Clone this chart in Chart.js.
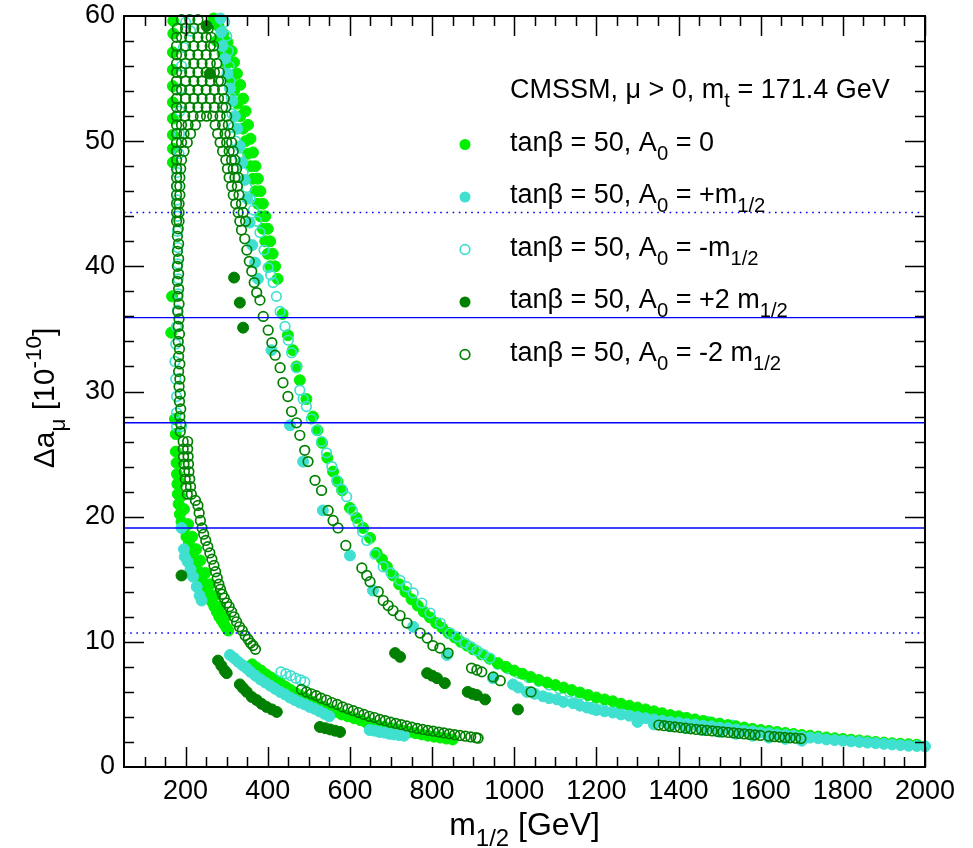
<!DOCTYPE html>
<html>
<head>
<meta charset="utf-8">
<script src="https://cdn.jsdelivr.net/npm/chart.js@4.4.0/dist/chart.umd.min.js"></script>
<style>
  html, body { margin: 0; padding: 0; background: #fff; }
</style>
</head>
<body>
<canvas id="myChart" width="973" height="848"></canvas>
<script>
// tick values
const xTicks = [200, 400, 600, 800, 1000, 1200, 1400, 1600, 1800, 2000];
const yTicks = [0, 10, 20, 30, 40, 50, 60];

// horizontal bands of the measured value
const bandSolid = [35.9, 27.5, 19.1];
const bandDotted = [44.3, 10.7];

// tanb = 50, A0 = 0  (light green, filled)
const a0Zero = [
  [170,59.6],[170,58.6],[169,57.1],[169,55.7],[169,54.4],[169,53.1],[169,51.8],[169,50.5],[169,49.4],[169,48.3],
  [167,37.6],[165,34.7],[174,27.8],[176,26.6],
  [176,25.2],[178,24.3],[179,23.4],[180,22.6],[181,21.8],[183,21.0],[186,20.2],[190,19.6],[196,19.0],[202,18.4],
  [208,17.9],[213,17.4],[218,16.8],[223,16.3],[228,15.8],[234,15.3],[240,14.9],[246,14.5],[252,14.1],[258,13.6],
  [264,13.2],[270,12.8],[276,12.4],[282,12.0],[288,11.7],[294,11.4],[300,11.1],[304,10.9],
  [184,22.8],[188,21.6],[196,20.6],[206,19.4],[216,18.4],[226,17.4],[236,16.5],[248,15.5],[260,14.6],[272,13.7],[284,12.8],[296,12.0],
  [268,59.8],[280,59.2],[292,58.6],[302,57.9],[312,57.2],[318,56.3],[325,55.4],[333,54.5],[340,53.4],[346,52.4],
  [352,51.3],[358,50.2],[364,49.1],[370,48.0],[376,47.0],[382,46.0],[388,45.0],[394,44.0],[400,43.0],[406,42.0],
  [412,41.0],[418,40.0],[424,39.0],
  [275,58.0],[290,57.0],[300,56.2],[310,55.0],[318,54.0],[326,53.0],[333,52.0],[340,51.0],[346,50.0],[352,49.0],
  [358,48.0],[364,47.0],[370,46.0],[376,45.0],[382,44.0],[388,43.0],[394,42.0],[400,41.0],[406,40.0],
  [436,36.2],[449,34.5],[461,33.3],[470,32.0],[478,30.9],[494,29.4],[510,28.0],[521,26.9],[532,25.9],[545,24.7],
  [559,23.6],[570,22.8],[581,22.1],[600,20.7],[616,19.9],[632,19.1],[649,18.3],[665,17.1],[678,16.6],
  [690,16.0],[705,15.3],[720,14.6],[735,14.0],[750,13.4],[765,12.9],[780,12.4],[795,11.95],[810,11.5],[825,11.1],
  [840,10.7],[855,10.35],[870,10.0],[885,9.7],[900,9.4],[920,9.0],[940,8.65],[960,8.3],[980,8.0],[1000,7.7],
  [1020,7.45],[1040,7.2],[1060,6.95],[1080,6.75],[1100,6.55],[1120,6.35],[1140,6.15],[1160,5.95],[1180,5.75],[1200,5.55],
  [1220,5.4],[1240,5.25],[1260,5.05],[1280,4.9],[1300,4.75],[1320,4.6],[1340,4.45],[1360,4.3],[1380,4.15],[1400,4.05],
  [1420,3.92],[1440,3.8],[1460,3.68],[1480,3.56],[1500,3.45],[1520,3.35],[1540,3.25],[1560,3.15],[1580,3.05],[1600,2.96],
  [1620,2.88],[1640,2.8],[1660,2.72],[1680,2.64],[1700,2.56],[1720,2.5],[1740,2.43],[1760,2.36],[1780,2.3],[1800,2.24],
  [1820,2.18],[1840,2.12],[1860,2.06],[1880,2.0],[1900,1.95],[1920,1.9],[1940,1.86],[1960,1.82],[1980,1.78],
  [362,8.2],[372,7.95],[384,7.7],[396,7.4],[408,7.15],[420,6.9],[432,6.65],[444,6.4],[456,6.15],[468,5.9],
  [480,5.7],[494,5.45],[508,5.2],[522,5.0],[536,4.8],[550,4.6],[565,4.4],[580,4.2],[595,4.05],[610,3.9],
  [625,3.75],[640,3.55],[655,3.45],[670,3.3],[685,3.2],[700,3.1],[715,3.0],[730,2.9],[745,2.8],[760,2.7],
  [775,2.6],[790,2.5],[805,2.42],[820,2.35],[835,2.27],[850,2.2]
];

// tanb = 50, A0 = +m1/2  (turquoise, filled)
const a0Plus = [
  [285,59.8],[287,58.7],[290,57.6],[296,56.6],[302,55.4],[308,54.2],[314,53.2],[320,52.0],[326,51.0],[332,49.6],
  [338,48.3],[344,46.9],[350,45.4],[356,43.5],[362,41.7],[369,40.3],[376,39.0],
  [409,33.3],[454,27.3],[486,24.4],[534,20.5],[600,16.9],[656,14.1],[754,11.2],[836,8.95],[948,7.1],
  [997,6.6],[1010,6.35],[1031,6.0],[1050,5.85],[1070,5.65],[1085,5.5],[1104,5.4],[1120,5.2],[1143,5.1],[1160,4.9],
  [1177,4.75],[1190,4.65],
  [1200,4.55],[1220,4.45],[1240,4.35],[1260,4.2],[1280,4.1],[1300,4.0],[1320,3.9],[1340,3.8],[1360,3.7],[1380,3.6],
  [1400,3.55],[1420,3.45],[1440,3.4],[1460,3.3],[1480,3.25],[1500,3.15],[1520,3.1],[1540,3.0],[1560,2.9],[1580,2.85],
  [1600,2.75],[1620,2.7],[1640,2.6],[1660,2.55],[1680,2.5],[1700,2.4],[1720,2.35],[1740,2.3],[1760,2.2],[1780,2.15],
  [1800,2.1],[1820,2.05],[1840,2.0],[1860,1.95],[1880,1.9],[1900,1.85],[1920,1.8],[1940,1.75],[1960,1.7],[1980,1.68],[2000,1.65],
  [1300,3.6],[1340,3.4],[1380,3.25],[1420,3.1],[1460,2.95],[1500,2.8],[1540,2.65],[1580,2.5],[1620,2.35],[1660,2.25],[1700,2.1],
  [190,19.1],[196,17.4],[198,16.8],[205,16.4],[212,15.8],[218,15.2],[227,14.4],[234,13.7],[239,13.3],
  [308,8.95],[318,8.7],[328,8.4],[338,8.15],[348,7.9],[358,7.6],[370,7.3],[382,7.0],[394,6.75],[406,6.5],
  [418,6.25],[430,6.0],[442,5.8],[454,5.55],[466,5.35],[478,5.15],[490,5.0],[502,4.8],[514,4.65],[526,4.45],
  [538,4.25],[550,4.05],
  [648,2.95],[660,2.9],[672,2.8],[684,2.75],[696,2.65],[708,2.6],[720,2.55],[732,2.5]
];

// tanb = 50, A0 = -m1/2  (turquoise, open)
const a0Minus = [
  [295,59.5],[300,58.4],[304,57.2],[306,56.0],[308,54.8],[311,53.5],[313,52.2],[315,51.1],[322,50.0],[332,48.7],
  [340,47.5],[349,46.3],[357,45.4],[365,44.5],[373,43.6],[381,42.7],[391,41.3],[401,39.9],[407,39.3],[413,38.7],
  [421,37.6],[430,36.4],[442,35.2],[450,34.1],[458,33.1],[470,31.9],[478,30.1],[486,29.4],[494,28.8],[506,27.8],
  [519,26.9],[531,26.0],[543,25.1],[556,24.0],[568,22.9],[580,22.2],[592,21.6],[606,20.5],[620,19.5],[631,18.8],
  [641,18.1],[661,17.0],[681,16.0],[700,15.5],[722,14.9],[738,14.4],[754,13.9],[775,13.1],[795,12.3],[820,11.5],
  [844,10.7],[861,10.4],[880,9.9],[895,9.6],[909,9.3],[925,9.0],[941,8.7],
  [179,47.5],[179,46.4],[179,45.3],[180,44.0],[180,42.8],[181,41.5],[181,40.2],[182,39.0],[182,37.8],[180,36.5],
  [178,35.2],[176,33.8],[174,32.4],[176,31.0],[178,29.6],[178,28.3],[178,27.2],[190,27.2],
  [200,59.5],[212,58.8],[195,57.5],[190,56.0],[188,54.2],[186,52.4],[185,50.6],[184,49.0],
  [432,7.6],[444,7.45],[456,7.3],[468,7.1],[480,6.95],[490,6.8]
];
// part of the same series that lies under the filled bands
const a0MinusTail = [
  [960,8.2],[985,7.85],[1010,7.5],[1035,7.15],[1060,6.85],[1085,6.55],[1110,6.25],[1135,6.0],[1160,5.75],[1185,5.5],
  [1210,5.3],[1235,5.1],[1260,4.9],[1290,4.65],[1320,4.45],[1350,4.25],[1380,4.1],[1410,3.95],[1440,3.8],[1470,3.65],
  [1500,3.5],[1530,3.35]
];

// tanb = 50, A0 = +2 m1/2  (dark green, filled)
const a0Plus2 = [
  [251,59.2],[259,55.4],[318,39.1],[332,37.1],[340,35.1],[190,15.3],
  [279,8.5],[287,8.1],[295,7.7],[300,7.5],[332,6.6],[340,6.3],[349,6.0],[361,5.6],[373,5.35],[385,5.05],
  [397,4.8],[410,4.6],[422,4.4],[527,3.2],[540,3.1],[552,3.0],[564,2.9],[576,2.8],
  [710,9.1],[722,8.8],[788,7.5],[800,7.3],[812,7.1],[831,6.7],[887,6.0],[898,5.85],[909,5.75],[929,5.4],[1009,4.6]
];

// tanb = 50, A0 = -2 m1/2  (dark green, open)
const a0Minus2 = [
  [190,59.7],[210,59.7],[230,59.7],
  [180,59.0],[200,59.0],[220,59.0],[240,59.0],[255,59.0],
  [178,58.3],[190,58.3],[210,58.3],[230,58.3],[250,58.3],[262,58.3],
  [178,57.6],[200,57.6],[220,57.6],[240,57.6],[260,57.6],[268,57.6],
  [178,56.9],[190,56.9],[210,56.9],[230,56.9],[250,56.9],[270,56.9],
  [178,56.2],[200,56.2],[220,56.2],[240,56.2],[260,56.2],[276,56.2],
  [178,55.5],[190,55.5],[210,55.5],[230,55.5],[250,55.5],[270,55.5],[282,55.5],
  [178,54.8],[200,54.8],[220,54.8],[240,54.8],[260,54.8],[280,54.8],[286,54.8],
  [178,54.1],[190,54.1],[210,54.1],[230,54.1],[250,54.1],[270,54.1],[290,54.1],
  [178,53.4],[200,53.4],[220,53.4],[240,53.4],[260,53.4],[280,53.4],[294,53.4],
  [178,52.7],[190,52.7],[210,52.7],[230,52.7],[250,52.7],[270,52.7],[290,52.7],[298,52.7],
  [178,52.0],[198,52.0],[218,52.0],[236,52.0],[251,52.0],[266,52.0],[284,52.0],[300,52.0],
  [178,51.3],[190,51.3],[206,51.3],[224,51.3],[272,51.3],[290,51.3],[304,51.3],
  [178,50.6],[196,50.6],[212,50.6],[278,50.6],[296,50.6],[308,50.6],
  [178,49.9],[190,49.9],[204,49.9],[284,49.9],[300,49.9],[312,49.9],
  [178,49.2],[196,49.2],[290,49.2],[306,49.2],[316,49.2],
  [178,48.5],[190,48.5],[298,48.5],[312,48.5],[320,48.5],
  [178,47.8],[188,47.8],[302,47.8],[316,47.8],[324,47.8],
  [178,47.1],[186,47.1],[306,47.1],[320,47.1],[328,47.1],
  [178,46.4],[186,46.4],[312,46.4],[326,46.4],
  [178,45.7],[186,45.7],[316,45.7],[330,45.7],
  [178,45.0],[184,45.0],[322,45.0],[336,45.0],
  [178,44.3],[184,44.3],[328,44.3],[340,44.3],
  [178,43.6],[184,43.6],[332,43.6],[346,43.6],
  [336,42.9],[344,42.2],[349,41.3],[355,40.4],[361,39.6],[367,38.7],
  [182,43.0],[180,42.4],[183,41.8],[180,41.2],[183,40.6],[180,40.0],[183,39.4],[180,38.8],[183,38.2],[181,37.6],
  [184,37.0],[181,36.4],[184,35.8],[182,35.2],[185,34.6],[182,34.0],[185,33.4],[183,32.8],[186,32.2],[183,31.6],
  [186,31.0],[184,30.4],[187,29.8],[185,29.2],[188,28.6],[186,28.0],[188,27.4],[187,26.8],
  [194,26.0],[205,26.0],[194,25.4],[205,25.4],[195,24.8],[206,24.8],[196,24.2],[207,24.2],[197,23.6],[208,23.6],
  [199,23.0],[210,23.0],[201,22.4],[212,22.4],[204,21.8],[214,21.8],
  [224,21.3],[230,20.9],[233,20.3],[236,19.7],[240,19.1],[244,18.6],[249,18.1],[254,17.6],[259,17.1],[264,16.6],
  [269,16.1],[273,15.6],[277,15.1],[281,14.6],[285,14.2],[289,13.8],[294,13.5],[300,13.1],[306,12.8],[312,12.4],
  [318,12.0],[324,11.6],[331,11.2],[338,10.9],[345,10.5],[352,10.2],[358,9.9],[364,9.7],[370,9.4],
  [373,37.9],[381,37.3],[389,36.0],[401,34.9],[410,33.9],[418,32.9],[430,31.9],[437,30.7],[449,29.6],[458,28.4],
  [470,27.5],[478,26.5],[490,25.3],[498,24.4],[515,22.9],[531,22.1],[547,20.5],[559,19.7],[571,19.1],[590,17.7],
  [629,15.9],[641,15.3],[649,14.8],[669,14.0],[681,13.3],[693,12.9],[705,12.5],[722,12.1],[739,11.5],[771,10.7],
  [788,10.3],[802,9.7],[819,9.5],[839,9.1],
  [896,7.9],[909,7.75],[921,7.6],[949,7.2],[966,6.9],[1041,6.0],
  [482,6.2],[494,6.0],[506,5.85],[518,5.7],[530,5.5],[543,5.35],[556,5.15],[569,5.0],[582,4.8],[595,4.65],
  [608,4.5],[621,4.35],[634,4.2],[647,4.05],[660,3.95],[673,3.8],[686,3.7],[699,3.58],[712,3.48],[725,3.38],
  [738,3.28],[751,3.18],[764,3.08],[777,3.0],[790,2.93],[803,2.86],[816,2.79],[829,2.72],[842,2.65],[855,2.58],
  [868,2.52],[881,2.46],[894,2.4],[907,2.34],[912,2.3],
  [1352,3.35],[1365,3.3],[1378,3.25],[1391,3.2],[1404,3.15],[1417,3.1],[1430,3.05],[1443,3.0],[1456,2.96],[1469,2.92],
  [1482,2.88],[1495,2.84],[1508,2.8],[1521,2.76],[1534,2.72],[1547,2.68],[1560,2.64],[1573,2.6],[1586,2.56],[1599,2.52],
  [1620,2.46],[1633,2.42],[1646,2.39],[1659,2.36],[1672,2.33],[1685,2.3],[1698,2.27]
];

const LIME = '#00f000';
const TURQ = '#40e0d0';
const DARK = '#008000';
const FONT = '"Liberation Sans", Arial, sans-serif';

const toXY = arr => arr.map(p => ({ x: p[0], y: p[1] }));

function filled(data, color, order) {
  return { data: toXY(data), pointRadius: 5.5, pointBorderWidth: 1, pointBackgroundColor: color,
           pointBorderColor: color, showLine: false, order: order, clip: false };
}
function open(data, color, order) {
  return { data: toXY(data), pointRadius: 4.8, pointBorderWidth: 1.7, pointBackgroundColor: 'rgba(0,0,0,0)',
           pointBorderColor: color, showLine: false, order: order, clip: false };
}
function hline(v, dotted) {
  return { data: [{ x: 50, y: v }, { x: 2000, y: v }], showLine: true, pointRadius: 0,
           borderColor: '#0000ff', borderWidth: dotted ? 1.6 : 1.4, borderDash: dotted ? [1.6, 4.6] : [],
           order: 0 };
}

// text with sub/superscripts: parts = [text, 0 normal | 1 sub | 2 sup]
function richWidth(ctx, parts, size) {
  let w = 0;
  for (const [t, m] of parts) {
    ctx.font = (m ? size * 0.75 : size) + 'px ' + FONT;
    w += ctx.measureText(t).width;
  }
  return w;
}
function richText(ctx, parts, x, y, size) {
  let cx = x;
  for (const [t, m] of parts) {
    ctx.font = (m ? size * 0.75 : size) + 'px ' + FONT;
    const dy = m === 1 ? size * 0.35 : (m === 2 ? -size * 0.42 : 0);
    ctx.fillText(t, cx, y + dy);
    cx += ctx.measureText(t).width;
  }
}

const legendRows = [
  { parts: [['tanβ = 50, A', 0], ['0', 1], [' = 0', 0]], color: LIME, fill: true },
  { parts: [['tanβ = 50, A', 0], ['0', 1], [' = +m', 0], ['1/2', 1]], color: TURQ, fill: true },
  { parts: [['tanβ = 50, A', 0], ['0', 1], [' = -m', 0], ['1/2', 1]], color: TURQ, fill: false },
  { parts: [['tanβ = 50, A', 0], ['0', 1], [' = +2 m', 0], ['1/2', 1]], color: DARK, fill: true },
  { parts: [['tanβ = 50, A', 0], ['0', 1], [' = -2 m', 0], ['1/2', 1]], color: DARK, fill: false }
];

const decorations = {
  id: 'decorations',
  afterDatasetsDraw(chart) {
    const { ctx, chartArea: a, scales: { x, y } } = chart;
    ctx.save();
    ctx.strokeStyle = '#000';
    ctx.lineWidth = 1.5;
    ctx.beginPath();
    for (let v = 100; v <= 2000; v += 50) {
      const px = Math.round(x.getPixelForValue(v)) + 0.5;
      const len = v % 200 === 0 ? 20 : 10;
      ctx.moveTo(px, a.bottom); ctx.lineTo(px, a.bottom - len);
      ctx.moveTo(px, a.top); ctx.lineTo(px, a.top + len);
    }
    for (let v = 2; v < 60; v += 2) {
      const py = Math.round(y.getPixelForValue(v)) + 0.5;
      const len = v % 10 === 0 ? 20 : 10;
      ctx.moveTo(a.left, py); ctx.lineTo(a.left + len, py);
      ctx.moveTo(a.right, py); ctx.lineTo(a.right - len, py);
    }
    ctx.stroke();
    ctx.lineWidth = 2;
    ctx.strokeRect(a.left, a.top, a.right - a.left, a.bottom - a.top);
    ctx.restore();
  },
  afterDraw(chart) {
    const { ctx, chartArea: a } = chart;
    ctx.save();
    ctx.fillStyle = '#000';
    ctx.textBaseline = 'alphabetic';
    // legend header and rows
    richText(ctx, [['CMSSM, μ > 0, m', 0], ['t', 1], [' = 171.4 GeV', 0]], 510, 98, 27);
    legendRows.forEach((row, i) => {
      const base = 150.5 + i * 52.5;
      const cy = base - 6;
      ctx.beginPath();
      ctx.arc(465, cy, row.fill ? 5.5 : 4.8, 0, Math.PI * 2);
      if (row.fill) { ctx.fillStyle = row.color; ctx.fill(); }
      else { ctx.strokeStyle = row.color; ctx.lineWidth = 1.7; ctx.stroke(); }
      ctx.fillStyle = '#000';
      richText(ctx, row.parts, 510, base, 27);
    });
    // x axis title
    const xt = [['m', 0], ['1/2', 1], [' [GeV]', 0]];
    const xw = richWidth(ctx, xt, 32);
    richText(ctx, xt, (a.left + a.right) / 2 - xw / 2, 835, 32);
    // y axis title
    const yt = [['Δa', 0], ['μ', 1], [' [10', 0], ['-10', 2], [']', 0]];
    const yw = richWidth(ctx, yt, 30);
    ctx.translate(54, 398);
    ctx.rotate(-Math.PI / 2);
    richText(ctx, yt, -yw / 2, 0, 30);
    ctx.restore();
  }
};

const datasets = [
  ...bandSolid.map(v => hline(v, false)),
  ...bandDotted.map(v => hline(v, true)),
  filled(a0Plus2, DARK, 1),
  open(a0Minus2, DARK, 2),
  open(a0Minus, TURQ, 3),
  filled(a0Plus, TURQ, 4),
  filled(a0Zero, LIME, 5),
  open(a0MinusTail, TURQ, 6)
];

const ctx = document.getElementById('myChart').getContext('2d');
new Chart(ctx, {
  type: 'scatter',
  data: { datasets: datasets },
  options: {
    responsive: false,
    animation: false,
    devicePixelRatio: 1,
    events: [],
    layout: { padding: { left: 0, right: 48, top: 16, bottom: 0 } },
    plugins: { legend: { display: false }, tooltip: { enabled: false } },
    scales: {
      x: {
        type: 'linear', min: 50, max: 2000,
        grid: { display: false, drawTicks: false },
        border: { display: false },
        afterBuildTicks: s => { s.ticks = xTicks.map(v => ({ value: v })); },
        afterFit: s => { s.height = 81; s.paddingLeft = 0; s.paddingRight = 0; },
        ticks: { color: '#000', font: { family: FONT, size: 27 }, padding: 8, maxRotation: 0,
                 autoSkip: false, callback: v => String(v) }
      },
      y: {
        type: 'linear', min: 0, max: 60,
        grid: { display: false, drawTicks: false },
        border: { display: false },
        afterBuildTicks: s => { s.ticks = yTicks.map(v => ({ value: v })); },
        afterFit: s => { s.width = 124; s.paddingTop = 0; s.paddingBottom = 0; },
        ticks: { color: '#000', font: { family: FONT, size: 27 }, padding: 9, callback: v => String(v) }
      }
    }
  },
  plugins: [decorations]
});
</script>
</body>
</html>
